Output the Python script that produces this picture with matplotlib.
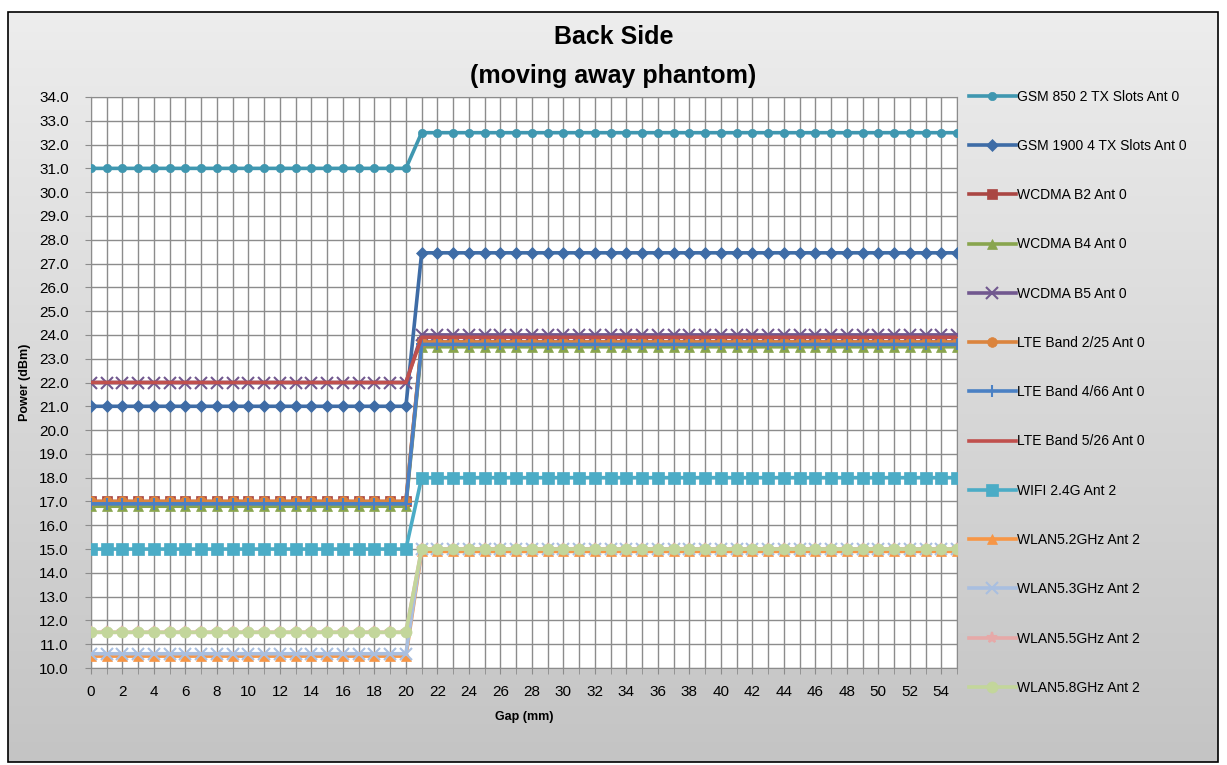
import matplotlib
matplotlib.use("Agg")
import matplotlib.pyplot as plt
import numpy as np
from matplotlib.patches import Rectangle

plt.rcParams["font.family"] = ["Liberation Sans", "DejaVu Sans"]

# gap positions (mm), 0..55
gap = list(range(56))
near = 21  # points 0..20 are "near", 21..55 "away"

series_names = [
    "GSM 850 2 TX Slots Ant 0",
    "GSM 1900 4 TX Slots Ant 0",
    "WCDMA B2 Ant 0",
    "WCDMA B4 Ant 0",
    "WCDMA B5 Ant 0",
    "LTE Band 2/25 Ant 0",
    "LTE Band 4/66 Ant 0",
    "LTE Band 5/26 Ant 0",
    "WIFI 2.4G Ant 2",
    "WLAN5.2GHz Ant 2",
    "WLAN5.3GHz Ant 2",
    "WLAN5.5GHz Ant 2",
    "WLAN5.8GHz Ant 2",
]
# power before / after the 20 mm step (dBm)
power_near = [31.0, 21.0, 17.0, 16.8, 22.0, 17.0, 16.9, 22.0, 15.0, 10.5, 10.6, 11.5, 11.5]
power_away = [32.5, 27.45, 23.7, 23.5, 24.0, 23.7, 23.6, 23.9, 18.0, 14.9, 15.0, 15.0, 15.0]

colors = ["#3f97b0", "#3e6ca6", "#aa4643", "#89a54e", "#71588f", "#db843d",
          "#4a80c4", "#c0504d", "#4bacc6", "#f79646", "#a9bfe0", "#e6a9a8", "#c3d69b"]
markers = ["o", "D", "s", "^", "x", "o", "+", "None", "s", "^", "x", "*", "o"]
msizes = [6, 6, 7, 7, 8, 7, 9, 0, 8, 7, 8, 8, 8]

fig = plt.figure(figsize=(12.27, 7.65), dpi=100)

# gradient background panel
bg = fig.add_axes([0, 0, 1, 1], zorder=-10)
bg.set_xlim(0, 1227)
bg.set_ylim(765, 0)
bg.axis("off")
grad = np.linspace(0, 1, 256).reshape(-1, 1)
bg.imshow(grad, cmap=matplotlib.colors.LinearSegmentedColormap.from_list("g", ["#ededed", "#c4c4c4"]),
          extent=[8, 1218, 762, 12], aspect="auto")
bg.add_patch(Rectangle((8, 12), 1210, 750, fill=False, edgecolor="black", lw=1.2))

ax = fig.add_axes([91 / 1227, 1 - 668 / 765, (957 - 91) / 1227, (668 - 97) / 765])
ax.set_facecolor("white")

for i, name in enumerate(series_names):
    y = [power_near[i]] * near + [power_away[i]] * (len(gap) - near)
    ax.plot(gap, y, color=colors[i], lw=2.6, marker=markers[i], markersize=msizes[i],
            markeredgewidth=1.5 if markers[i] in ("x", "+", "*") else 0.5,
            markeredgecolor=colors[i], label=name, zorder=3 + i * 0.01)

ax.set_xlim(0, 55)
ax.set_ylim(10, 34)
ax.set_yticks(np.arange(10, 34.01, 1.0))
ax.set_yticklabels([f"{v:.1f}" for v in np.arange(10, 34.01, 1.0)], fontsize=11)
ax.set_xticks(gap, minor=True)
ax.set_xticks(gap[::2])
ax.set_xticklabels([str(g) for g in gap[::2]], fontsize=11)
ax.grid(True, which="both", color="#8c8c8c", lw=1)
ax.set_axisbelow(True)
for s in ax.spines.values():
    s.set_color("#8c8c8c")
ax.tick_params(axis="both", which="both", length=4, color="#8c8c8c")
ax.tick_params(axis="x", pad=8)
ax.tick_params(axis="y", pad=12)

ax.set_xlabel("Gap (mm)", fontsize=9, fontweight="bold", labelpad=9)
ax.set_ylabel("Power (dBm)", fontsize=9, fontweight="bold", labelpad=6)

fig.text(0.5, 1 - 37 / 765, "Back Side", ha="center", va="center",
         fontsize=18, fontweight="bold")
fig.text(0.5, 1 - 76 / 765, "(moving away phantom)", ha="center",
         va="center", fontsize=18, fontweight="bold")

fig.legend(loc="upper left", bbox_to_anchor=(963 / 1227, 1 - 84 / 765), frameon=False,
           fontsize=10, labelspacing=2.54, handlelength=3.4, handletextpad=0.1,
           borderaxespad=0)

fig.savefig("out.png", dpi=100)
